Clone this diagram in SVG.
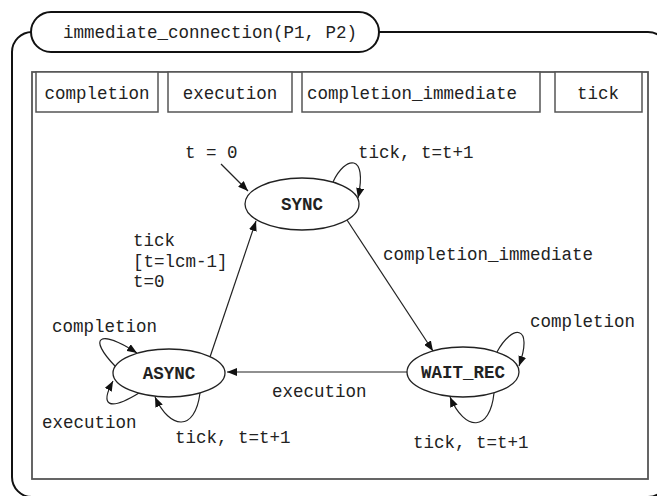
<svg xmlns="http://www.w3.org/2000/svg" width="657" height="496" viewBox="0 0 657 496">
<defs>
<marker id="ah" markerUnits="userSpaceOnUse" markerWidth="10" markerHeight="8" refX="10" refY="4" orient="auto">
<path d="M0,0 L10,4 L0,8 z" fill="#111"/>
</marker>
<style>
text{font-family:"Liberation Mono","Courier New",monospace;font-size:17.5px;fill:#222}
.node ellipse{fill:#fff;stroke:#222;stroke-width:1.3}
.node text{font-weight:bold;text-anchor:middle}
.tab rect{fill:#fff;stroke:#555;stroke-width:1.5}
.tab text{text-anchor:middle}
#edges path{fill:none;stroke:#222;stroke-width:1.2;marker-end:url(#ah)}
</style>
</defs>
<rect width="657" height="496" fill="#fff"/>
<g id="frame">
<rect x="12" y="32" width="656" height="465" rx="20" fill="none" stroke="#111" stroke-width="2"/>
<rect x="32" y="72" width="616" height="407" fill="none" stroke="#555" stroke-width="1.8"/>
</g>
<g id="title">
<rect x="31" y="12" width="348" height="40" rx="20" fill="#fff" stroke="#111" stroke-width="2"/>
<text x="210" y="38" text-anchor="middle">immediate_connection(P1, P2)</text>
</g>
<g id="tab-completion" class="tab"><rect x="36" y="72" width="122" height="40"/><text x="97" y="99">completion</text></g>
<g id="tab-execution" class="tab"><rect x="168" y="72" width="124" height="40"/><text x="230" y="99">execution</text></g>
<g id="tab-completion_immediate" class="tab"><rect x="302" y="72" width="238" height="40"/><text x="412" y="99">completion_immediate</text></g>
<g id="tab-tick" class="tab"><rect x="555" y="72" width="87" height="40"/><text x="598" y="99">tick</text></g>
<g id="edges">
<path d="M221 164 L248 191"/>
<path d="M210 357 L256 221"/>
<path d="M347 220 L433 351"/>
<path d="M407 372 L227 372"/>
<path d="M333 182 C345 156,368 152,358 198"/>
<path d="M115 366 C88 338,98 328,137 353"/>
<path d="M139 393 C108 412,100 405,113 381"/>
<path d="M200 393 C195 432,170 430,155 397"/>
<path d="M497 352 C512 324,534 324,519 366"/>
<path d="M494 393 C490 432,465 432,450 397"/>
</g>
<g id="edge-labels">
<text x="185" y="158">t = 0</text>
<text x="358" y="158">tick, t=t+1</text>
<text x="133" y="246">tick</text>
<text x="133" y="267">[t=lcm-1]</text>
<text x="133" y="287">t=0</text>
<text x="383" y="260">completion_immediate</text>
<text x="530" y="327">completion</text>
<text x="52" y="332">completion</text>
<text x="272" y="397">execution</text>
<text x="42" y="428">execution</text>
<text x="175" y="443">tick, t=t+1</text>
<text x="413" y="448">tick, t=t+1</text>
</g>
<g id="SYNC" class="node"><ellipse cx="302" cy="204" rx="57" ry="26"/><text x="302" y="210">SYNC</text></g>
<g id="ASYNC" class="node"><ellipse cx="169" cy="373" rx="56" ry="24"/><text x="169" y="379">ASYNC</text></g>
<g id="WAIT_REC" class="node"><ellipse cx="463" cy="372" rx="56" ry="25"/><text x="463" y="378">WAIT_REC</text></g>
</svg>
